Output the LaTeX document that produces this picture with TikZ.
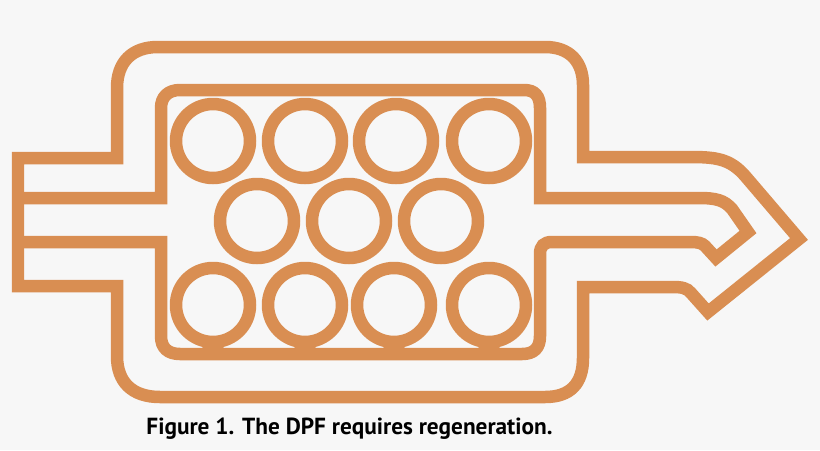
\documentclass[tikz,border=0pt]{standalone}
\usepackage{fontspec}
\setmainfont{PT Sans}
\definecolor{pipecolor}{HTML}{D98E52}
\definecolor{pagecolor}{HTML}{F7F7F7}
\tikzset{
  pipe/.style={draw=pipecolor, line width=0.25cm, line join=miter, line cap=butt},
  ball/.style={circle, draw=pipecolor, line width=0.25cm, minimum size=1.48cm, inner sep=0pt, outer sep=0pt},
  web/.style={fill=pipecolor, draw=none},
  caption/.style={font=\bfseries\fontsize{13.25pt}{15pt}\selectfont, text=black, inner sep=0pt, anchor=base}
}
\begin{document}
\begin{tikzpicture}[x=0.02cm, y=-0.02cm]
\useasboundingbox[fill=pagecolor] (0, 0) rectangle (820, 450);

% Outer casing with the outlet arrow
\draw[pipe] (18, 158) -- (117, 158) -- (117, 88)
  .. controls (117, 62) and (132, 47) .. (158, 47)
  -- (545, 47)
  .. controls (570, 47) and (583, 62) .. (583, 85)
  -- (583, 157) -- (688, 157)
  .. controls (715, 157) and (730, 158) .. (746, 177)
  -- (799, 239) -- (708, 312) -- (691, 293)
  .. controls (687, 288) and (682, 287) .. (672, 287)
  -- (583, 287) -- (583, 358)
  .. controls (583, 384) and (570, 397) .. (545, 397)
  -- (160, 397)
  .. controls (132, 397) and (117, 382) .. (117, 356)
  -- (117, 286) -- (18, 286) -- cycle;

% Inner pipe
\draw[pipe] (18, 198) -- (161, 198) -- (161, 108)
  .. controls (161, 97) and (168, 90) .. (180, 90)
  -- (524, 90)
  .. controls (535, 90) and (540, 96) .. (540, 108)
  -- (540, 198) -- (698, 198)
  .. controls (716, 198) and (724, 200) .. (732, 209)
  -- (748, 232) -- (716, 258) -- (705, 246)
  .. controls (702, 243) and (698, 242) .. (690, 242)
  -- (552, 242)
  .. controls (544, 242) and (540, 246) .. (540, 254)
  -- (540, 336)
  .. controls (540, 348) and (534, 354) .. (522, 354)
  -- (180, 354)
  .. controls (168, 354) and (161, 348) .. (161, 336)
  -- (161, 242) -- (18, 242);

% Small webs under the bottom row
\fill[web] (197, 338) -- (229, 338) -- (222, 350) -- (204, 350) -- cycle;
\fill[web] (289, 338) -- (321, 338) -- (314, 350) -- (296, 350) -- cycle;
\fill[web] (378, 338) -- (410, 338) -- (403, 350) -- (385, 350) -- cycle;
\fill[web] (473, 338) -- (505, 338) -- (498, 350) -- (480, 350) -- cycle;

% Top row
\node[ball] (top1) at (213, 141) {};
\node[ball] (top2) at (305, 141) {};
\node[ball] (top3) at (396, 141) {};
\node[ball] (top4) at (489, 141) {};

% Middle row
\node[ball] (mid1) at (257, 221) {};
\node[ball] (mid2) at (349, 221) {};
\node[ball] (mid3) at (441, 221) {};

% Bottom row
\node[ball] (bot1) at (213, 305) {};
\node[ball] (bot2) at (305, 305) {};
\node[ball] (bot3) at (394, 305) {};
\node[ball] (bot4) at (489, 305) {};

\node[caption] (figcaption) at (349.5, 434) {Figure 1. The DPF requires regeneration.};
\end{tikzpicture}
\end{document}
